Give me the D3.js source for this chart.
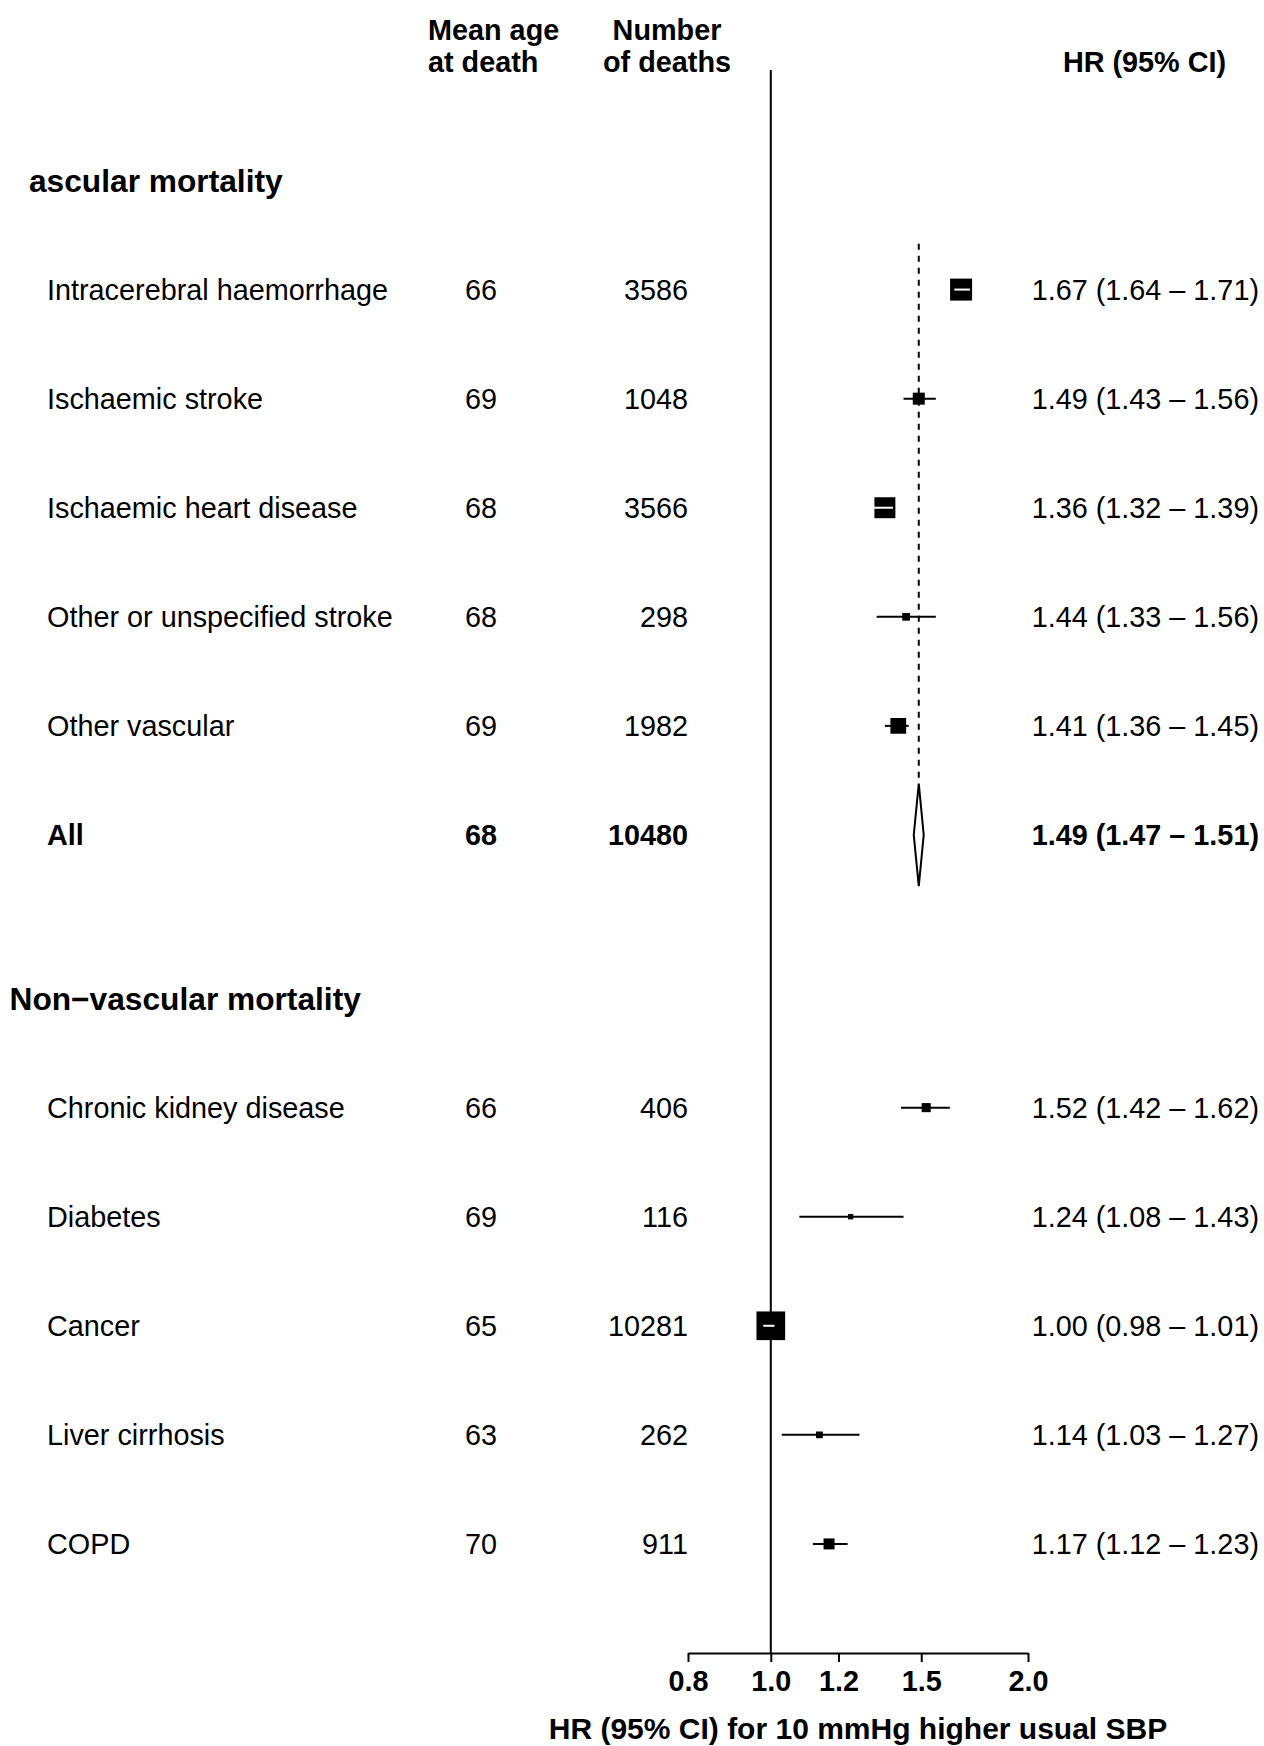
<!DOCTYPE html>
<html>
<head>
<meta charset="utf-8">
<script src="https://cdn.jsdelivr.net/npm/d3@7"></script>
<style>
  html, body { margin: 0; padding: 0; background: #fff; }
  svg { display: block; }
  text { font-family: "Liberation Sans", Arial, Helvetica, sans-serif; fill: #000; }
</style>
</head>
<body>
<svg id="chart" width="1264" height="1746"></svg>
<script>
// Hazard ratios per 10 mmHg higher usual SBP, by cause of death
const groupTitles = ["ascular mortality", "Non\u2212vascular mortality"];
const causes = [
  "Intracerebral haemorrhage", "Ischaemic stroke", "Ischaemic heart disease",
  "Other or unspecified stroke", "Other vascular", "All",
  "Chronic kidney disease", "Diabetes", "Cancer", "Liver cirrhosis", "COPD"
];
const causeGroup = [0, 0, 0, 0, 0, 0, 1, 1, 1, 1, 1];
const isTotal    = [false, false, false, false, false, true, false, false, false, false, false];
const meanAge    = [66, 69, 68, 68, 69, 68, 66, 69, 65, 63, 70];
const deaths     = [3586, 1048, 3566, 298, 1982, 10480, 406, 116, 10281, 262, 911];
const hr         = [1.67, 1.49, 1.36, 1.44, 1.41, 1.49, 1.52, 1.24, 1.00, 1.14, 1.17];
const hrLow      = [1.64, 1.43, 1.32, 1.33, 1.36, 1.47, 1.42, 1.08, 0.98, 1.03, 1.12];
const hrHigh     = [1.71, 1.56, 1.39, 1.56, 1.45, 1.51, 1.62, 1.43, 1.01, 1.27, 1.23];
// precision of each log HR (1 / SE), which sets the box size
const invSE      = [94, 46, 89, 25.5, 64, 146, 32, 14, 126, 20.7, 41.3];
const tickValues = [0.8, 1.0, 1.2, 1.5, 2.0];
const tickLabels = ["0.8", "1.0", "1.2", "1.5", "2.0"];

const FS = 28.8;          // base font size
const FS_HEAD = 31.7;     // group heading size
const FS_XLAB = 30;       // axis title size
const svg = d3.select("#chart");

// row layout: heading, rows, summary, gap, heading, rows, axis
const slots = [];
let cursor = 0;
const headingSlot = [];
causes.forEach((c, i) => {
  if (i === 0 || causeGroup[i] !== causeGroup[i - 1]) {
    if (i > 0) cursor += 0.5;
    headingSlot.push(cursor);
    cursor += 1;
  }
  slots.push(cursor);
  cursor += 1;
});
const axisSlot = cursor;

const y = d3.scaleLinear().domain([0, 13.5]).range([180.5, 1653]);
const rowH = y(1) - y(0);
const x = d3.scaleLog().domain([0.8, 2.0]).range([688, 1028]);

const boxSide = d3.scaleLinear().domain([0, 130]).range([2.4, 29.5]);

const fmt = d3.format(".2f");
const hrText = i => `${fmt(hr[i])} (${fmt(hrLow[i])} \u2013 ${fmt(hrHigh[i])})`;
const base = (cy, fs) => cy + 0.355 * fs;

// column headers
const hdr = svg.append("g").attr("font-weight", "bold").attr("font-size", FS);
hdr.append("text").attr("x", 428).attr("y", 39.5).text("Mean age");
hdr.append("text").attr("x", 428).attr("y", 71.5).text("at death");
hdr.append("text").attr("x", 667).attr("y", 39.5).attr("text-anchor", "middle").text("Number");
hdr.append("text").attr("x", 667).attr("y", 71.5).attr("text-anchor", "middle").text("of deaths");
hdr.append("text").attr("x", 1144.5).attr("y", 71.5).attr("text-anchor", "middle").text("HR (95% CI)");

// group headings
svg.append("g").selectAll("text").data(groupTitles).join("text")
  .attr("x", (d, i) => i === 0 ? 29 : 9.5)
  .attr("y", (d, i) => base(y(headingSlot[i]), FS_HEAD))
  .attr("font-size", FS_HEAD).attr("font-weight", "bold")
  .text(d => d);

// table columns
const rows = svg.append("g").selectAll("g").data(causes).join("g")
  .attr("font-size", FS)
  .attr("font-weight", (d, i) => isTotal[i] ? "bold" : "normal");
rows.append("text").attr("x", 47).attr("y", (d, i) => base(y(slots[i]), FS)).text(d => d);
rows.append("text").attr("x", 481).attr("text-anchor", "middle")
  .attr("y", (d, i) => base(y(slots[i]), FS)).text((d, i) => meanAge[i]);
rows.append("text").attr("x", 688).attr("text-anchor", "end")
  .attr("y", (d, i) => base(y(slots[i]), FS)).text((d, i) => deaths[i]);
rows.append("text").attr("x", 1259).attr("text-anchor", "end")
  .attr("y", (d, i) => base(y(slots[i]), FS)).text((d, i) => hrText(i));

// reference line at HR = 1
svg.append("line")
  .attr("x1", x(1)).attr("x2", x(1))
  .attr("y1", 70).attr("y2", y(axisSlot))
  .attr("stroke", "#000").attr("stroke-width", 2);

// dashed line at the overall vascular estimate
const totIdx = isTotal.indexOf(true);
const diamondHalf = rowH * 0.47;
svg.append("line")
  .attr("x1", x(hr[totIdx])).attr("x2", x(hr[totIdx]))
  .attr("y1", y(slots[0]) - rowH * 0.42)
  .attr("y2", y(slots[totIdx]) - diamondHalf)
  .attr("stroke", "#000").attr("stroke-width", 2)
  .attr("stroke-dasharray", "6,6");

// confidence intervals and boxes
const marks = svg.append("g");
causes.forEach((c, i) => {
  const cy = y(slots[i]);
  if (isTotal[i]) {
    marks.append("path")
      .attr("d", `M${x(hrLow[i])},${cy} L${x(hr[i])},${cy - diamondHalf} L${x(hrHigh[i])},${cy} L${x(hr[i])},${cy + diamondHalf} Z`)
      .attr("fill", "#fff").attr("stroke", "#000").attr("stroke-width", 2);
    return;
  }
  const s = boxSide(invSE[i]);
  const ciW = x(hrHigh[i]) - x(hrLow[i]);
  const inside = ciW < s;
  if (!inside) {
    marks.append("line")
      .attr("x1", x(hrLow[i])).attr("x2", x(hrHigh[i]))
      .attr("y1", cy).attr("y2", cy)
      .attr("stroke", "#000").attr("stroke-width", 2);
  }
  marks.append("rect")
    .attr("x", x(hr[i]) - s / 2).attr("y", cy - s / 2)
    .attr("width", s).attr("height", s)
    .attr("fill", "#000");
  if (inside) {
    marks.append("line")
      .attr("x1", x(hrLow[i])).attr("x2", x(hrHigh[i]))
      .attr("y1", cy).attr("y2", cy)
      .attr("stroke", "#fff").attr("stroke-width", 2);
  }
});

// x axis
const axis = svg.append("g")
  .attr("transform", `translate(0,${y(axisSlot)})`)
  .call(d3.axisBottom(x)
    .tickValues(tickValues)
    .tickFormat((d, i) => tickLabels[i])
    .tickSize(9).tickSizeOuter(0).tickPadding(8.6));
axis.selectAll("path, line").attr("stroke", "#000").attr("stroke-width", 2);
axis.selectAll("text")
  .attr("font-size", FS).attr("font-weight", "bold")
  .attr("font-family", "'Liberation Sans', Arial, Helvetica, sans-serif")
  .attr("fill", "#000");

svg.append("text")
  .attr("x", (x.range()[0] + x.range()[1]) / 2)
  .attr("y", 1739)
  .attr("text-anchor", "middle")
  .attr("font-size", FS_XLAB).attr("font-weight", "bold")
  .text("HR (95% CI) for 10 mmHg higher usual SBP");
</script>
</body>
</html>
